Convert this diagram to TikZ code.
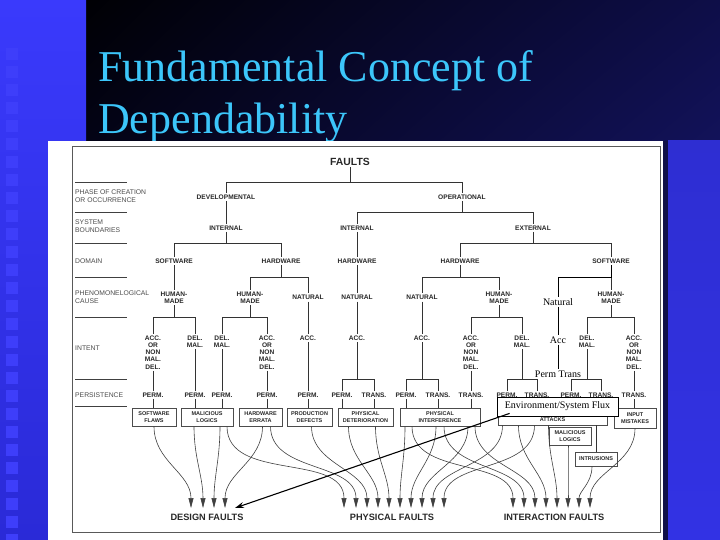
\documentclass[tikz,border=0pt]{standalone}
\usepackage{fontspec}
\setmainfont{Liberation Sans}
\newfontfamily\timesfont{Liberation Serif}
\usetikzlibrary{arrows.meta,shadings}

\definecolor{striptop}{RGB}{58,58,252}
\definecolor{stripbot}{RGB}{42,42,215}
\definecolor{squareblue}{RGB}{62,62,250}
\definecolor{bgtl}{RGB}{0,0,4}
\definecolor{bgtr}{RGB}{14,14,72}
\definecolor{bgbl}{RGB}{12,12,70}
\definecolor{bgbr}{RGB}{30,30,140}
\definecolor{bgshadow}{RGB}{16,16,72}
\definecolor{edgetop}{RGB}{46,46,210}
\definecolor{edgebot}{RGB}{50,50,228}
\definecolor{titlecyan}{RGB}{60,198,250}
\definecolor{inkgrey}{RGB}{40,40,40}

\newcommand{\accnon}{ACC.\\OR\\NON\\MAL.\\DEL.}
\newcommand{\delmal}{DEL.\\MAL.}

\tikzset{
  cls/.style={font=\fontsize{6.6}{7.2}\selectfont\bfseries, text=inkgrey, align=center, inner sep=1.5pt},
  lvl/.style={font=\fontsize{6.8}{7.8}\selectfont, text=black!70, align=left, anchor=west, inner sep=0pt},
  sep/.style={draw=black!75, line width=0.8pt},
  tree/.style={draw=black!80, line width=0.7pt},
  branch/.style={to path={(\tikztostart.south) |- (#1 -| \tikztotarget) -- (\tikztotarget.north)}},
  leaf/.style={draw=black!70, line width=0.8pt, font=\fontsize{5.5}{7}\selectfont\bfseries, text=inkgrey, align=center, inner sep=0pt, minimum height=18pt},
  ann/.style={font=\timesfont\fontsize{10}{11}\selectfont, inner sep=1pt},
  annline/.style={draw=black, line width=0.8pt},
  flow/.style={draw=black!75, line width=0.6pt, -{Triangle[length=10pt,width=5pt]}},
  bot/.style={font=\fontsize{9.2}{10}\selectfont\bfseries, text=inkgrey, inner sep=1pt},
}

\begin{document}
\begin{tikzpicture}[x=1pt,y=-1pt]
  \useasboundingbox (0,0) rectangle (720,540);
  % slide
  \shade[upper left=bgtl, upper right=bgtr, lower left=bgbl, lower right=bgbr] (86,0) rectangle (720,540);
  \shade[top color=striptop, bottom color=stripbot] (0,0) rectangle (86,540);
  \foreach \y in {48,66,...,534} \fill[squareblue] (6,\y) rectangle (18,\y+12);
  \node[font=\timesfont\fontsize{44}{48}\selectfont, text=titlecyan, anchor=base west, inner sep=0pt] (title1) at (98,82) {Fundamental Concept of};
  \node[font=\timesfont\fontsize{44}{48}\selectfont, text=titlecyan, anchor=base west, inner sep=0pt] (title2) at (98,134) {Dependability};
  \fill[white] (48,141) rectangle (663,540);
  \fill[bgshadow] (663,141) rectangle (668,540);
  \shade[top color=edgetop, bottom color=edgebot] (668,141) rectangle (720,540);
  \draw[black!65, line width=1pt] (72,147) rectangle (660,532);

  % classification levels
  \foreach \y [count=\i] in {182,212,243,277,317,379,406} {
    \draw[sep] (75,\y) -- (127,\y);
    \coordinate (s\i) at (127,\y);
  }
  \node[lvl] (phase) at (75,196.5) {PHASE OF CREATION\\OR OCCURRENCE};
  \node[lvl] (bound) at (75,226.5) {SYSTEM\\BOUNDARIES};
  \node[lvl] (domain) at (75,261) {DOMAIN};
  \node[lvl] (cause) at (75,297.5) {PHENOMONELOGICAL\\CAUSE};
  \node[lvl] (intent) at (75,348) {INTENT};
  \node[lvl] (persist) at (75,395) {PERSISTENCE};

  % tree
  \node[cls, font=\fontsize{10.4}{12}\selectfont\bfseries] (faults) at (350,162) {FAULTS};
  \node[cls] (dev) at (226,197) {DEVELOPMENTAL};
  \node[cls] (op) at (462,197) {OPERATIONAL};
  \node[cls] (int1) at (226,228) {INTERNAL};
  \node[cls] (int2) at (357,228) {INTERNAL};
  \node[cls] (ext) at (533,228) {EXTERNAL};
  \node[cls] (sw1) at (174,261) {SOFTWARE};
  \node[cls] (hw1) at (281,261) {HARDWARE};
  \node[cls] (hw2) at (357,261) {HARDWARE};
  \node[cls] (hw3) at (460,261) {HARDWARE};
  \node[cls] (sw2) at (611,261) {SOFTWARE};
  \node[cls] (hm1) at (174,297.5) {HUMAN-\\MADE};
  \node[cls] (hm2) at (250,297.5) {HUMAN-\\MADE};
  \node[cls] (nat1) at (308,297.5) {NATURAL};
  \node[cls] (nat2) at (357,297.5) {NATURAL};
  \node[cls] (nat3) at (422,297.5) {NATURAL};
  \node[cls] (hm3) at (499,297.5) {HUMAN-\\MADE};
  \node[cls] (hm4) at (611,297.5) {HUMAN-\\MADE};
  \node[cls, anchor=north] (a1) at (153,334) {\accnon};
  \node[cls, anchor=north] (a2) at (195,334) {\delmal};
  \node[cls, anchor=north] (a3) at (222,334) {\delmal};
  \node[cls, anchor=north] (a4) at (267,334) {\accnon};
  \node[cls, anchor=north] (a5) at (308,334) {ACC.};
  \node[cls, anchor=north] (a6) at (357,334) {ACC.};
  \node[cls, anchor=north] (a7) at (422,334) {ACC.};
  \node[cls, anchor=north] (a8) at (471,334) {\accnon};
  \node[cls, anchor=north] (a9) at (522,334) {\delmal};
  \node[cls, anchor=north] (a10) at (587,334) {\delmal};
  \node[cls, anchor=north] (a11) at (634,334) {\accnon};
  \foreach \x/\t [count=\i] in {153/PERM., 195/PERM., 222/PERM., 267/PERM., 308/PERM., 342/PERM., 374/TRANS., 406/PERM., 438/TRANS., 471/TRANS., 507/PERM., 537/TRANS., 571/PERM., 601/TRANS., 634/TRANS.}
    \node[cls] (q\i) at (\x,395) {\t};

  \draw[tree] (faults) to[branch=s1] (dev) (faults) to[branch=s1] (op);
  \draw[tree] (dev) -- (int1);
  \draw[tree] (op) to[branch=s2] (int2) (op) to[branch=s2] (ext);
  \draw[tree] (int1) to[branch=s3] (sw1) (int1) to[branch=s3] (hw1);
  \draw[tree] (int2) -- (hw2);
  \draw[tree] (ext) to[branch=s3] (hw3) (ext) to[branch=s3] (sw2);
  \draw[tree] (sw1) -- (hm1);
  \draw[tree] (hw1) to[branch=s4] (hm2) (hw1) to[branch=s4] (nat1);
  \draw[tree] (hw2) -- (nat2);
  \draw[tree] (hw3) to[branch=s4] (nat3) (hw3) to[branch=s4] (hm3);
  \draw[tree] (sw2) -- (hm4);
  \draw[tree] (hm1) to[branch=s5] (a1) (hm1) to[branch=s5] (a2);
  \draw[tree] (hm2) to[branch=s5] (a3) (hm2) to[branch=s5] (a4);
  \draw[tree] (nat1) -- (a5);
  \draw[tree] (nat2) -- (a6);
  \draw[tree] (nat3) -- (a7);
  \draw[tree] (hm3) to[branch=s5] (a8) (hm3) to[branch=s5] (a9);
  \draw[tree] (hm4) to[branch=s5] (a10) (hm4) to[branch=s5] (a11);
  \draw[tree] (a1) -- (q1);
  \draw[tree] (a2) -- (q2);
  \draw[tree] (a3) -- (q3);
  \draw[tree] (a4) -- (q4);
  \draw[tree] (a5) -- (q5);
  \draw[tree] (a6) to[branch=s6] (q6) (a6) to[branch=s6] (q7);
  \draw[tree] (a7) to[branch=s6] (q8) (a7) to[branch=s6] (q9);
  \draw[tree] (a8) -- (q10);
  \draw[tree] (a9) to[branch=s6] (q11) (a9) to[branch=s6] (q12);
  \draw[tree] (a10) to[branch=s6] (q13) (a10) to[branch=s6] (q14);
  \draw[tree] (a11) -- (q15);

  % elementary fault boxes
  \node[leaf, minimum width=44pt] (sflaw) at (154,417) {SOFTWARE\\FLAWS};
  \node[leaf, minimum width=52pt] (mlog) at (207,417) {MALICIOUS\\LOGICS};
  \node[leaf, minimum width=43pt] (herr) at (260.5,417) {HARDWARE\\ERRATA};
  \node[leaf, minimum width=45pt] (prod) at (309.5,417) {PRODUCTION\\DEFECTS};
  \node[leaf, minimum width=55pt] (pdet) at (365.5,417) {PHYSICAL\\DETERIORATION};
  \node[leaf, minimum width=80pt] (pint) at (440,417) {PHYSICAL\\INTERFERENCE};
  \node[leaf, minimum width=109pt, minimum height=17pt, text height=10pt, text depth=0pt] (attk) at (552.5,416.5) {ATTACKS};
  \node[leaf, minimum width=42pt, minimum height=20pt] (imist) at (635,418) {INPUT\\MISTAKES};
  \node[leaf, minimum width=42pt] (mlog2) at (570,436) {MALICIOUS\\LOGICS};
  \node[leaf, minimum width=42pt, minimum height=14pt] (intru) at (596,459) {INTRUSIONS};
  \foreach \q/\b in {q1/sflaw, q2/mlog, q3/mlog, q4/herr, q5/prod, q6/pdet, q7/pdet, q8/pint, q9/pint, q10/pint, q11/attk, q12/attk, q13/attk, q14/attk, q15/imist}
    \draw[tree] (\q) -- (\q |- \b.north);
  \draw[tree] (mlog2.north west) -- (mlog2.north west |- attk.south);
  \draw[tree] (intru.north) -- (intru.north |- attk.south);

  % combined fault classes
  \foreach \x [count=\i] in {191,203,214,225} \coordinate (df\i) at (\x,508);
  \foreach \x [count=\i] in {344,356,367,378,389,400,411,422,433,444} \coordinate (pf\i) at (\x,508);
  \foreach \x [count=\i] in {513,524,535,546,557,568,579,590} \coordinate (if\i) at (\x,508);
  \foreach \s/\dx/\t in {sflaw/0/df1, mlog/-13/df2, mlog/13/df3, herr/2/df4,
      mlog/20/pf1, herr/10/pf2, prod/2/pf3, pdet/-17/pf4, pdet/10/pf5, pint/-35/pf6, pint/-4/pf7, pint/28/pf8, attk/-50/pf9, attk/-18/pf10,
      pint/-28/if1, pint/4/if2, pint/35/if3, attk/-34/if4, attk/-4/if5, mlog2/-2/if6, intru/-4/if7, imist/0/if8}
    \draw[flow] ([xshift=\dx pt]\s.south) to[out=-90,in=90] (\t);
  \node[bot] (design) at (207,517) {DESIGN FAULTS};
  \node[bot] (physical) at (392,517) {PHYSICAL FAULTS};
  \node[bot] (interaction) at (554,517) {INTERACTION FAULTS};

  % added branch
  \node[ann] (natx) at (558,302) {Natural};
  \node[ann] (accx) at (558,340) {Acc};
  \node[ann] (ptx) at (558,374) {Perm Trans};
  \draw[annline] (sw2) to[branch=s4] (natx);
  \draw[annline] (natx) -- (accx);
  \draw[annline] (accx) -- (ptx);
  \node[ann, draw, line width=0.8pt, fill=white, minimum width=121pt, minimum height=19pt] (flux) at (557.5,406.5) {Environment/System Flux};
  \coordinate (fluxtip) at (235,508);
  \draw[line width=1.1pt, -{Stealth[length=9pt,width=6pt]}] ([shift={(13,-3)}]flux.south west) -- (fluxtip);
\end{tikzpicture}
\end{document}
